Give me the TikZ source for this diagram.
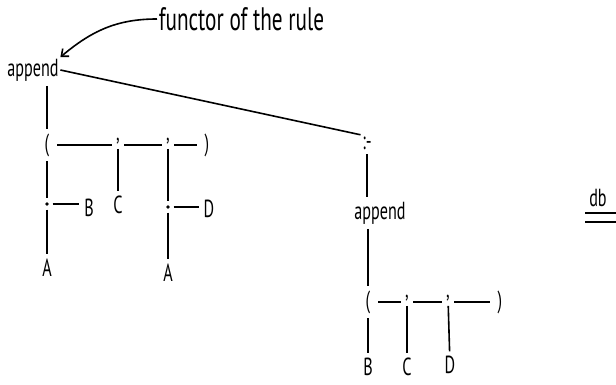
\documentclass[tikz,border=0pt]{standalone}
\usepackage{fontspec,graphicx}
\setmainfont{PT Sans}
\usetikzlibrary{arrows.meta,positioning}

\newcommand{\hand}[1]{\scalebox{0.85}[1.3]{#1}}
\tikzset{
 lbl/.style={inner sep=1pt,font=\fontsize{19}{21}\selectfont},
 pt/.style={circle,fill=black,inner sep=0pt,minimum size=3.6pt},
 edge/.style={shorten >=3pt,shorten <=3pt},
 hedge/.style={shorten >=6pt,shorten <=6pt}
}

\begin{document}
\begin{tikzpicture}[x=1pt,y=-1pt,line width=1.6pt]
\useasboundingbox (0,0) rectangle (616,385);
% the rule head
\node[lbl,anchor=west,font=\fontsize{25}{27}\selectfont] (functor) at (157,19) {\hand{functor of the rule}};
\node[lbl] (app1) at (33,70) {\hand{append}};
\node[lbl] (lp1) at (47,145) {\hand{(}};
\node[lbl] (c1) at (118,141) {\hand{,}};
\node[lbl] (c2) at (168,141) {\hand{,}};
\node[lbl] (rp1) at (207,145) {\hand{)}};
\node[pt] (dot1) at (47,204) {};
\node[lbl] (B1) at (89,208) {\hand{B}};
\node[lbl] (C1) at (118,205) {\hand{C}};
\node[pt] (dot2) at (168,207) {};
\node[lbl] (D1) at (209,209) {\hand{D}};
\node[lbl] (A1) at (47,268) {\hand{A}};
\node[lbl] (A2) at (168,273) {\hand{A}};
% the rule body
\node[lbl] (neck) at (367,143) {\hand{:-}};
\node[lbl] (app2) at (380,213) {\hand{append}};
\node[lbl] (lp2) at (368,302) {\hand{(}};
\node[lbl] (c3) at (407,298) {\hand{,}};
\node[lbl] (c4) at (448,298) {\hand{,}};
\node[lbl] (rp2) at (500,302) {\hand{)}};
\node[lbl] (B2) at (368,367) {\hand{B}};
\node[lbl] (C2) at (407,367) {\hand{C}};
\node[lbl] (D2) at (450,365) {\hand{D}};
\node[lbl] (db) at (598,198) {\hand{db}};
\draw[line width=1.2pt] (585,213) -- (616,213) (585,222) -- (616,222);
% connectors
\draw[-{Straight Barb[length=6pt,width=10pt]}] (functor.west) to[out=180,in=40] (app1.north east);
\draw (app1.east) -- (neck.north west);
\draw[edge] (lp1 |- app1.south) -- (lp1);
\draw[hedge] (lp1) -- (c1 |- lp1);
\draw[hedge] (c1 |- lp1) -- (c2 |- lp1);
\draw[hedge] (c2 |- lp1) -- (rp1);
\draw[edge] (lp1) -- (dot1);
\draw[edge] (dot1) -- (B1.west |- dot1);
\draw[edge] (dot1) -- (A1);
\draw[edge] (c1) -- (C1);
\draw[edge] (c2) -- (dot2);
\draw[edge] (dot2) -- (D1.west |- dot2);
\draw[edge] (dot2) -- (A2);
\draw[edge] (neck.south) -- (neck.south |- app2.north);
\draw[edge] (lp2 |- app2.south) -- (lp2);
\draw[hedge] (lp2) -- (c3 |- lp2);
\draw[hedge] (c3 |- lp2) -- (c4 |- lp2);
\draw[hedge] (c4 |- lp2) -- (rp2);
\draw[edge] (lp2) -- (B2);
\draw[edge] (c3) -- (C2);
\draw[edge] (c4) -- (D2);
\end{tikzpicture}
\end{document}
